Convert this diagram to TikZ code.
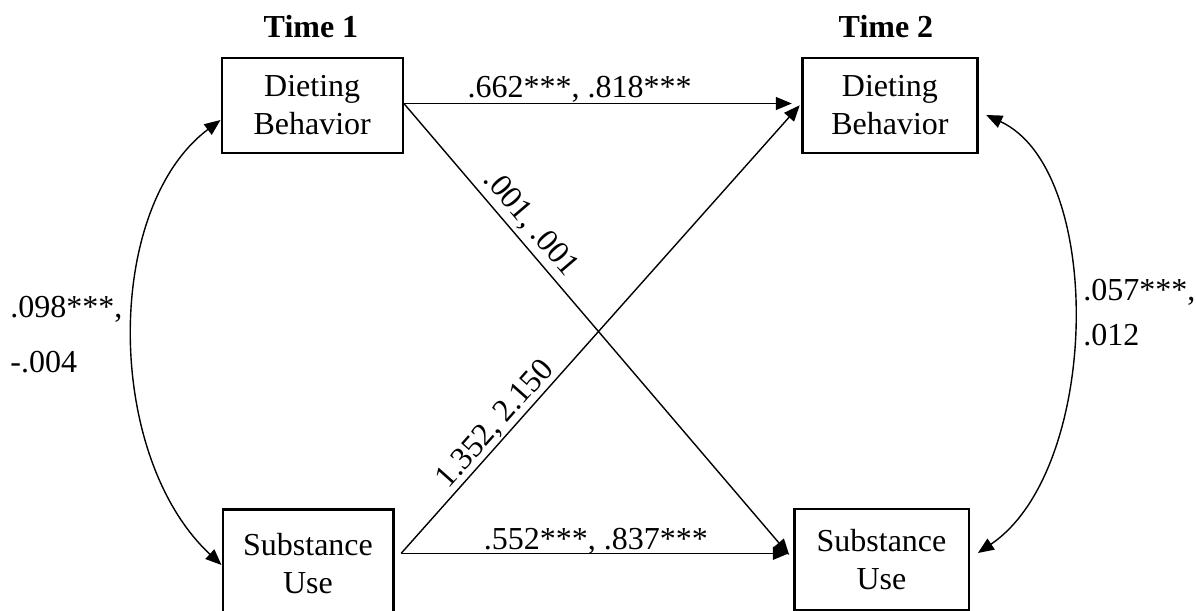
\documentclass[tikz,border=0pt]{standalone}
\usepackage{fontspec}
\setmainfont{Liberation Serif}
\usetikzlibrary{arrows.meta,calc}
\begin{document}
\begin{tikzpicture}[x=0.5pt,y=-0.5pt,
  box/.style={draw, line width=1.2pt, align=center, inner sep=0pt, font=\fontsize{16}{18.8}\selectfont},
  conn/.style={line width=0.7pt, -{Triangle[length=8pt,width=6.5pt]}},
  dbl/.style={line width=0.7pt, {Triangle[length=8pt,width=6.5pt]}-{Triangle[length=8pt,width=6.5pt]}},
  lbl/.style={font=\fontsize{16}{18.8}\selectfont, inner sep=0pt},
  hdr/.style={font=\fontsize{16}{18.8}\selectfont\bfseries, inner sep=0pt, anchor=base}
]
\useasboundingbox (0,0) rectangle (1196,611);
% headers
\node[hdr] (time1) at (311,37.7) {Time 1};
\node[hdr] (time2) at (886,37.7) {Time 2};
% boxes
\node[box, minimum width=90.5pt, minimum height=47.5pt] (t1d) at (312.2,105.2) {Dieting\\Behavior};
\node[box, minimum width=87.4pt, minimum height=47.5pt] (t2d) at (889.9,105.2) {Dieting\\Behavior};
\node[box, minimum width=85.3pt, minimum height=54.5pt] (t1s) at (308,563.8) {Substance\\Use};
\node[box, minimum width=87.2pt, minimum height=50.25pt] (t2s) at (881.5,559.5) {Substance\\Use};
% connector end points
\coordinate (d1out) at ($(t1d.east)+(0,-1.7)$);
\coordinate (d2in) at ($(t2d.west)+(0,-1.7)$);
\coordinate (s1out) at ($(t1s.east)+(6.7,-10.5)$);
% straight paths
\draw[conn, shorten >=4.75pt] (d1out) -- (d2in)
  node[lbl, pos=0.442, anchor=base, yshift=2.9pt] {.662***, .818***};
\draw[conn, shorten >=3pt] (d1out) -- (t2s.west);
\path ($(d1out)!5.1pt!90:(t2s.west)$) -- ($(t2s.west)!5.1pt!-90:(d1out)$)
  node[lbl, sloped, pos=0.29, anchor=base] {.001, .001};
\draw[conn, shorten >=1.2pt] (s1out) -- (d2in);
\path ($(s1out)!3.5pt!90:(d2in)$) -- ($(d2in)!3.5pt!-90:(s1out)$)
  node[lbl, sloped, pos=0.264, anchor=base] {1.352, 2.150};
\draw[conn, shorten >=2.1pt] (s1out) -- (s1out -| t2s.west)
  node[lbl, pos=0.497, anchor=base, yshift=2pt] {.552***, .837***};
% curved covariances
\draw[dbl] ($(t1d.west)+(0,14.8)$) .. controls +(-117,88) and +(-117,-109) .. ($(t1s.west)+(0,1.2)$);
\draw[dbl] ($(t2d.east)+(7.7,9.8)$) .. controls +(119,55) and +(123,-83) .. ($(t2s.east)+(8,-6.5)$);
% covariance labels
\node[lbl, anchor=base west] (lc1) at (10,317) {.098***,};
\node[lbl, anchor=base west] (lc2) at (10,372) {-.004};
\node[lbl, anchor=base west] (rc1) at (1083,300) {.057***,};
\node[lbl, anchor=base west] (rc2) at (1083,345) {.012};
\end{tikzpicture}
\end{document}
